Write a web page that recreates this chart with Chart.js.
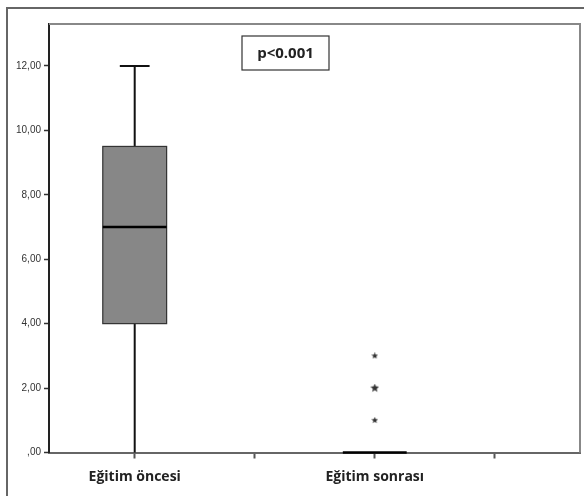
<!DOCTYPE html>
<html>
<head>
<meta charset="utf-8">
<script src="https://cdn.jsdelivr.net/npm/chart.js@4/dist/chart.umd.min.js"></script>
<style>
  html, body { margin: 0; padding: 0; background: #fff; }
  #wrap { width: 584px; height: 496px; position: relative; }
</style>
</head>
<body>
<div id="wrap"><canvas id="chart"></canvas></div>
<script>
// box plot summary per group
const categories = ['Eğitim öncesi', 'Eğitim sonrası'];
const whiskerLow = [0, 0];
const q1 = [4, 0];
const median = [7, 0];
const q3 = [9.5, 0];
const whiskerHigh = [12, 0];
const outliers = [[], [1, 2, 3]];
const yTicks = [0, 2, 4, 6, 8, 10, 12];
const pLabel = 'p<0.001';

const BOX_HALF = 0.133;  // in category units
const CAP_HALF = 0.062;

function makeStar(size) {
  const c = document.createElement('canvas');
  c.width = size; c.height = size;
  const g = c.getContext('2d');
  const cx = size / 2, cy = size / 2, ro = size / 2, ri = ro * 0.45;
  g.beginPath();
  for (let i = 0; i < 10; i++) {
    const r = i % 2 ? ri : ro;
    const a = -Math.PI / 2 + i * Math.PI / 5;
    g.lineTo(cx + r * Math.cos(a), cy + r * Math.sin(a));
  }
  g.closePath();
  g.fillStyle = '#333';
  g.fill();
  return c;
}
const starSmall = makeStar(7);
const starBig = makeStar(9);

const outlierPoints = [];
const outlierStyles = [];
outliers.forEach((vals, i) => {
  vals.forEach(v => {
    outlierPoints.push({ x: i + 1, y: v });
    outlierStyles.push(v === 2 ? starBig : starSmall);
  });
});

const boxPlugin = {
  id: 'boxes',
  beforeDraw(chart) {
    const ctx = chart.ctx;
    ctx.save();
    ctx.strokeStyle = '#666';
    ctx.lineWidth = 2;
    ctx.beginPath();
    ctx.moveTo(7, 496);
    ctx.lineTo(7, 8);
    ctx.lineTo(584, 8);
    ctx.stroke();
    ctx.restore();
  },
  afterDatasetsDraw(chart) {
    const ctx = chart.ctx;
    const xs = chart.scales.x, ys = chart.scales.y;
    const area = chart.chartArea;
    ctx.save();
    // frame top + right
    ctx.strokeStyle = '#888';
    ctx.lineWidth = 2;
    ctx.beginPath();
    ctx.moveTo(area.left, area.top);
    ctx.lineTo(area.right, area.top);
    ctx.lineTo(area.right, area.bottom);
    ctx.stroke();

    categories.forEach((cat, i) => {
      const xc = xs.getPixelForValue(i + 1);
      const xl = xs.getPixelForValue(i + 1 - BOX_HALF);
      const xr = xs.getPixelForValue(i + 1 + BOX_HALF);
      const cl = xs.getPixelForValue(i + 1 - CAP_HALF);
      const cr = xs.getPixelForValue(i + 1 + CAP_HALF);
      const yLo = ys.getPixelForValue(whiskerLow[i]);
      const yQ1 = ys.getPixelForValue(q1[i]);
      const yMed = ys.getPixelForValue(median[i]);
      const yQ3 = ys.getPixelForValue(q3[i]);
      const yHi = ys.getPixelForValue(whiskerHigh[i]);

      ctx.strokeStyle = '#111';
      ctx.lineWidth = 2;
      if (whiskerHigh[i] > q3[i]) {
        ctx.beginPath();
        ctx.moveTo(xc, yQ3); ctx.lineTo(xc, yHi);
        ctx.moveTo(cl, yHi); ctx.lineTo(cr, yHi);
        ctx.stroke();
      }
      if (whiskerLow[i] < q1[i]) {
        ctx.beginPath();
        ctx.moveTo(xc, yQ1); ctx.lineTo(xc, yLo);
        // cap sits on the axis line when the whisker reaches zero
        if (whiskerLow[i] > 0) {
          ctx.moveTo(cl, yLo); ctx.lineTo(cr, yLo);
        }
        ctx.stroke();
      }
      if (q3[i] > q1[i]) {
        ctx.fillStyle = '#878787';
        ctx.fillRect(xl, yQ3, xr - xl, yQ1 - yQ3);
        ctx.strokeStyle = '#333';
        ctx.lineWidth = 1.2;
        ctx.strokeRect(xl, yQ3, xr - xl, yQ1 - yQ3);
      }
      ctx.strokeStyle = '#000';
      ctx.lineWidth = 2.5;
      ctx.beginPath();
      ctx.moveTo(xl, yMed); ctx.lineTo(xr, yMed);
      ctx.stroke();
    });

    // p value label
    const bx = 242, by = 36, bw = 87, bh = 34;
    ctx.fillStyle = '#fff';
    ctx.fillRect(bx, by, bw, bh);
    ctx.strokeStyle = '#333';
    ctx.lineWidth = 1.2;
    ctx.strokeRect(bx, by, bw, bh);
    ctx.fillStyle = '#222';
    ctx.font = 'bold 15px "Open Sans", sans-serif';
    ctx.textAlign = 'center';
    ctx.textBaseline = 'middle';
    ctx.fillText(pLabel, bx + bw / 2, by + bh / 2 + 1);
    ctx.restore();
  }
};

const ctx = document.getElementById('chart').getContext('2d');
new Chart(ctx, {
  type: 'scatter',
  data: {
    datasets: [{
      label: 'outliers',
      data: outlierPoints,
      pointStyle: outlierStyles,
      pointRadius: 4,
      borderWidth: 0
    }]
  },
  options: {
    responsive: true,
    maintainAspectRatio: false,
    animation: false,
    layout: { padding: { left: 0, top: 24, right: 1, bottom: 0 } },
    plugins: {
      legend: { display: false },
      tooltip: { enabled: false }
    },
    scales: {
      x: {
        type: 'linear',
        min: 0.643,
        max: 2.855,
        afterBuildTicks: (scale) => {
          scale.ticks = [1, 1.5, 2, 2.5].map(v => ({ value: v }));
        },
        afterFit: (scale) => { scale.height = 43.5; },
        border: { color: '#666', width: 2 },
        grid: { drawOnChartArea: false, tickLength: 6, color: '#555', tickWidth: 2 },
        ticks: {
          autoSkip: false,
          maxRotation: 0,
          padding: 10,
          color: '#222',
          font: { family: '"Open Sans", sans-serif', size: 14, weight: 'bold' },
          callback: (v) => Number.isInteger(v) ? categories[v - 1] : ''
        }
      },
      y: {
        min: 0,
        max: 13.3,
        afterBuildTicks: (scale) => {
          scale.ticks = yTicks.map(v => ({ value: v }));
        },
        afterFit: (scale) => { scale.width = 49; },
        border: { color: '#222', width: 2 },
        grid: { drawOnChartArea: false, tickLength: 5, color: '#333', tickWidth: 1.5 },
        ticks: {
          padding: 3,
          color: '#333',
          font: { family: 'Arial, "Liberation Sans", sans-serif', size: 10 },
          callback: (v) => v.toFixed(2).replace('.', ',').replace(/^0,/, ',')
        }
      }
    }
  },
  plugins: [boxPlugin]
});
</script>
</body>
</html>
